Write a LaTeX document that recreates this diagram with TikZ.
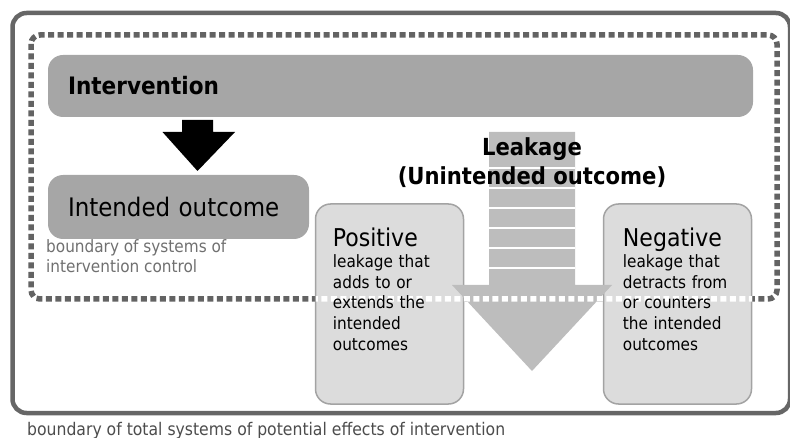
\documentclass[tikz,border=0pt]{standalone}
\usepackage{fontspec}
\setmainfont{DejaVu Sans Condensed}
\usetikzlibrary{positioning,calc}
\definecolor{framegray}{HTML}{666666}
\definecolor{dotgray}{HTML}{636363}
\definecolor{boxgray}{HTML}{A6A6A6}
\definecolor{sidefill}{HTML}{DCDCDC}
\definecolor{sideedge}{HTML}{A3A3A3}
\definecolor{leakgray}{HTML}{BDBDBD}
\definecolor{notegray}{HTML}{707070}
\begin{document}
\begin{tikzpicture}[x=1pt,y=-1pt,
  frame/.style={draw=framegray,line width=4.5pt,rounded corners=14pt},
  control/.style={line width=5.5pt,dash pattern=on 6pt off 3.5pt,rounded corners=9pt},
  main box/.style={fill=boxgray,rounded corners=15pt,inner xsep=20pt,inner ysep=0pt,align=left},
  side box/.style={fill=sidefill,draw=sideedge,line width=1.5pt,rounded corners=15pt,
    minimum width=148pt,minimum height=200pt},
  side head/.style={inner sep=0pt,anchor=base west,font=\fontsize{24.5}{29}\selectfont},
  side text/.style={inner sep=0pt,anchor=base west,align=left,text width=130pt,
    font=\fontsize{17}{20.8}\selectfont},
  note/.style={inner sep=0pt,anchor=base west,align=left,text=notegray,
    font=\fontsize{17}{20.5}\selectfont},
  leak text/.style={inner sep=0pt,anchor=base,font=\bfseries\fontsize{23.5}{28}\selectfont}]

  \useasboundingbox (0,0) rectangle (790,438);

  % outer boundary and boundary of control
  \draw[frame] (12.5,13) rectangle (790,413);
  \draw[control,draw=dotgray] (31,35) rectangle (777,299);

  % boxes
  \node[main box,minimum width=705pt,minimum height=62pt,text width=665pt,
    font=\bfseries\fontsize{24}{29}\selectfont] (intervention) at (400.5,86) {Intervention};
  \node[main box,minimum width=261pt,minimum height=64pt,text width=221pt,
    font=\fontsize{25.5}{30}\selectfont] (intended) at (178.5,207) {Intended outcome};
  \node[side box] (positive) at (389.5,304) {};
  \node[side box] (negative) at (677.5,304) {};

  % intervention -> intended outcome
  \coordinate (drop top) at (197.5,120);
  \coordinate (drop tip) at (197.5,171);
  \fill[black] (drop top) ++(-15.5,0) -- ++(31,0) -- ++(0,12) -- ++(22,0)
    -- (drop tip) -- ($(drop top)+(-35,12)$) -- ++(19.5,0) -- cycle;

  % leakage arrow
  \coordinate (leak top) at (532,132);
  \coordinate (leak tip) at (532,371);
  \fill[leakgray] (leak top) ++(-43,0) -- ++(86,0) -- ++(0,153) -- ++(37,0)
    -- (leak tip) -- ($(leak top)+(-80,153)$) -- ++(37,0) -- cycle;
  \foreach \y in {168,188,208,228,248,268}
    \draw[white,line width=1.8pt] (489,\y) -- (575,\y);

  % boundary of control seen through the leakage
  \begin{scope}
    \clip (316,290) rectangle (752,308);
    \draw[control,draw=white] (31,35) rectangle (777,299);
  \end{scope}

  % texts
  \node[leak text] (leak title) at (532,156) {Leakage};
  \node[leak text] (leak sub) at (532,185) {(Unintended outcome)};

  \node[side head] (pos head) at ($(positive.north west)+(18,43)$) {Positive};
  \node[side text] (pos text) at ($(positive.north west)+(18,64)$)
    {leakage that\\adds to or\\extends the\\intended\\outcomes};
  \node[side head] (neg head) at ($(negative.north west)+(20,43)$) {Negative};
  \node[side text] (neg text) at ($(negative.north west)+(20,64)$)
    {leakage that\\detracts from\\or counters\\the intended\\outcomes};

  \node[note] (control note) at (46,273) {boundary of systems of\\intervention control};
  \node[note,text=black!70,font=\fontsize{17.4}{21}\selectfont] (total note) at (27,435)
    {boundary of total systems of potential effects of intervention};
\end{tikzpicture}
\end{document}
